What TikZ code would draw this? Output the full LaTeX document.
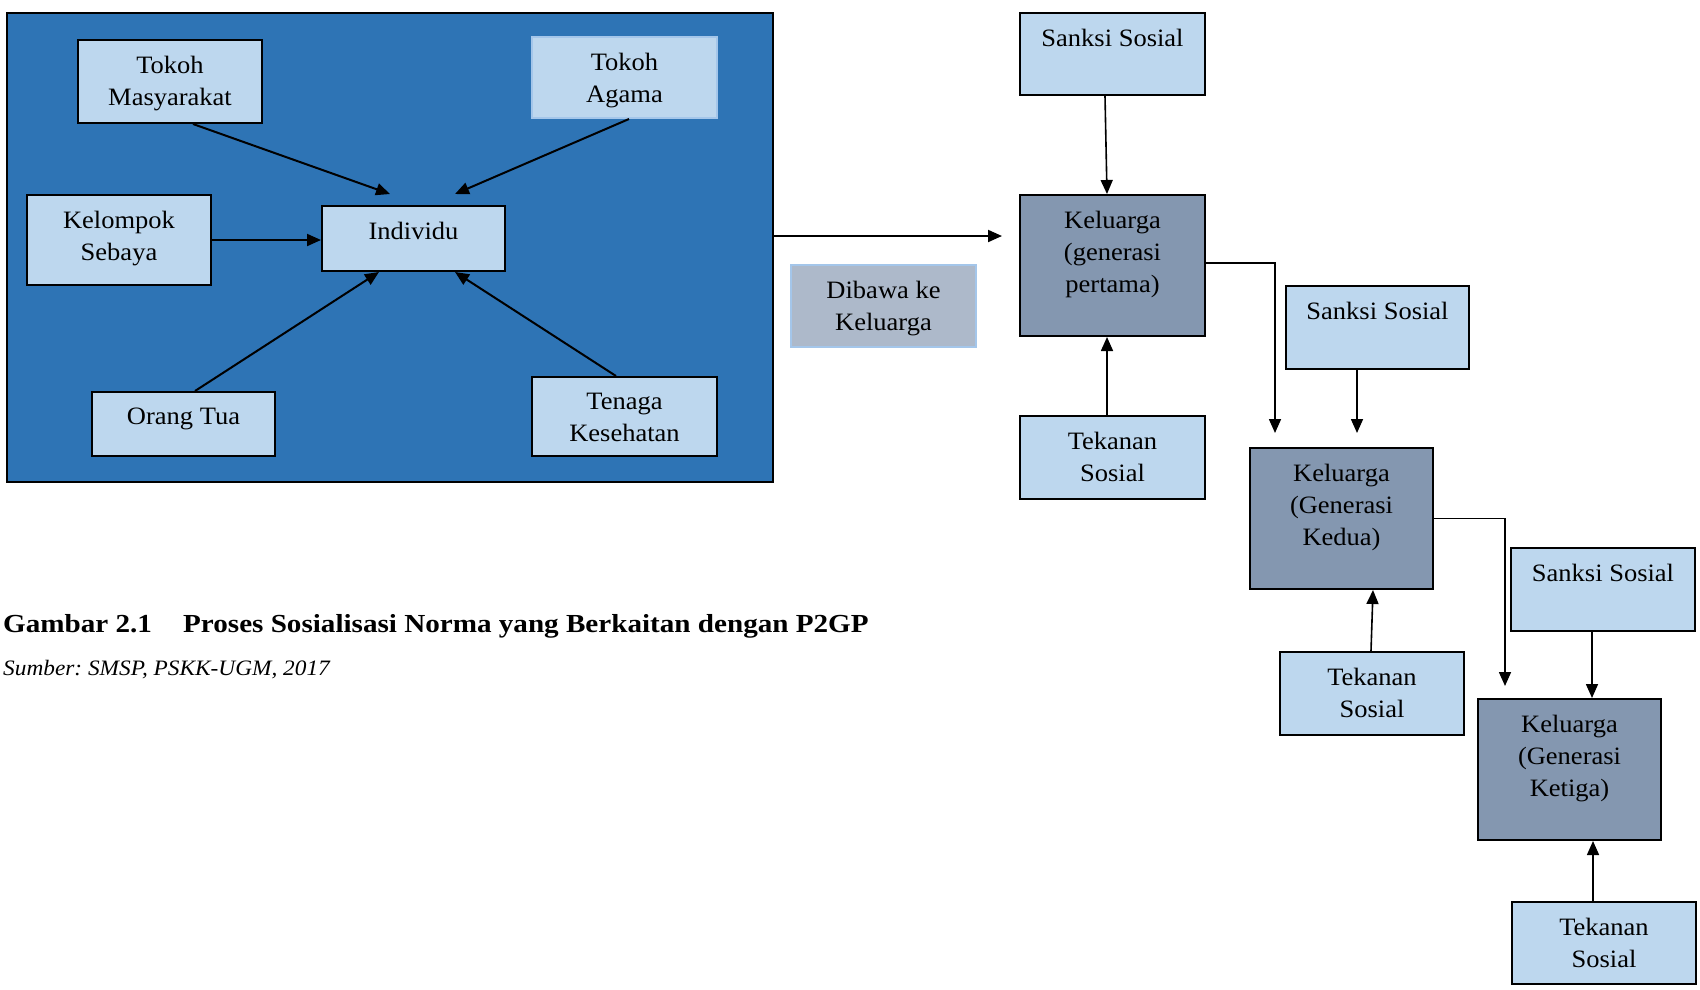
\documentclass[tikz,border=0pt]{standalone}
\usepackage{fontspec}
\setmainfont[FakeStretch=1.06]{Liberation Serif}
\newfontfamily\capfont[FakeStretch=1.12]{Liberation Serif}
\usetikzlibrary{arrows.meta,fit}
\definecolor{outerblue}{HTML}{2E74B5}
\definecolor{lightblue}{HTML}{BDD7EE}
\definecolor{darkbox}{HTML}{8497B0}
\definecolor{dibfill}{HTML}{ADB9CA}
\definecolor{softedge}{HTML}{A4C6EA}
\tikzset{
  bx/.style={draw=black, line width=2pt, inner sep=0pt},
  lb/.style={bx, fill=lightblue},
  dk/.style={bx, fill=darkbox},
  txt/.style={font=\fontsize{25}{32}\selectfont, align=center, inner sep=0pt, anchor=north},
  arr/.style={-{Triangle[length=14pt,width=12pt]}, line width=2pt},
  arrt/.style={-{Triangle[length=14pt,width=12pt]}, line width=1.6pt},
}
\newcommand\mybox[7]{%
  \node[#6, fit={(#2,#3)(#4,#5)}] (#1) {};
  \node[txt] (#1t) at ([yshift=-17pt]#1.north) {#7};}
\frenchspacing
\begin{document}
\begin{tikzpicture}[x=1pt,y=-1pt]
\useasboundingbox[fill=white] (0,0) rectangle (1700,989);
% left panel
\node[draw=black, fill=outerblue, line width=2pt, inner sep=0pt, fit={(6.5,13)(773,482)}] (outer) {};
\mybox{tm}{78}{40}{262}{123}{lb}{Tokoh\\Masyarakat}
\mybox{ta}{532}{37}{717}{118}{lb, draw=softedge}{Tokoh\\Agama}
\mybox{ks}{27}{195}{211}{285}{lb}{Kelompok\\Sebaya}
\mybox{ind}{322}{206}{505}{271}{lb}{Individu}
\mybox{ot}{92}{392}{275}{456}{lb}{Orang Tua}
\mybox{tk}{532}{377}{717}{456}{lb}{Tenaga\\Kesehatan}
\draw[arr] ([xshift=23pt]tm.south) -- ([xshift=-23.5pt,yshift=11pt]ind.north);
\draw[arr] ([xshift=4.5pt]ta.south) -- ([xshift=41.5pt,yshift=11pt]ind.north);
\draw[arr] (ks.east) -- (ks.east -| ind.west);
\draw[arr] ([xshift=11.5pt]ot.north) -- ([xshift=-34.5pt]ind.south);
\draw[arr] ([xshift=-8.5pt]tk.north) -- ([xshift=41.5pt]ind.south);
% middle
\mybox{dib}{791}{265}{976}{347}{bx, draw=softedge, fill=dibfill}{Dibawa ke\\Keluarga}
% right chain
\mybox{s1}{1020}{13}{1205}{95}{lb}{Sanksi Sosial}
\mybox{k1}{1020}{195}{1205}{336}{dk}{Keluarga\\(generasi\\pertama)}
\mybox{t1}{1020}{416}{1205}{499}{lb}{Tekanan\\Sosial}
\mybox{s2}{1286}{286}{1469}{369}{lb}{Sanksi Sosial}
\mybox{k2}{1250}{448}{1433}{589}{dk}{Keluarga\\(Generasi\\Kedua)}
\mybox{t2}{1280}{652}{1464}{735}{lb}{Tekanan\\Sosial}
\mybox{s3}{1511}{548}{1695}{631}{lb}{Sanksi Sosial}
\mybox{k3}{1478}{699}{1661}{840}{dk}{Keluarga\\(Generasi\\Ketiga)}
\mybox{t3}{1512}{902}{1696}{984}{lb}{Tekanan\\Sosial}
\coordinate (a1) at ([yshift=11.5pt]outer.east);
\coordinate (a1end) at ([xshift=-17pt]a1 -| k1.west);
\draw[arr] (a1) -- (a1end);
\draw[arrt] ([xshift=-7.5pt]s1.south) -- ([xshift=-5.5pt]k1.north);
\draw[arrt] ([xshift=-5.5pt]t1.north) -- ([xshift=-5.5pt]k1.south);
\draw[arrt] ([yshift=2.5pt]k1.east) -| ([xshift=-66.5pt,yshift=14pt]k2.north);
\draw[arrt] ([xshift=-20.5pt]s2.south) -- ([xshift=15.5pt,yshift=14pt]k2.north);
\draw[arrt] ([xshift=-1pt]t2.north) -- ([xshift=31.5pt]k2.south);
\draw[arrt] (k2.east) -| ([xshift=-64.5pt,yshift=12pt]k3.north);
\draw[arrt] ([xshift=-11pt]s3.south) -- ([xshift=22.5pt]k3.north);
\draw[arrt] ([xshift=-11pt]t3.north) -- ([xshift=23.5pt]k3.south);
% caption
\node[anchor=base west, inner sep=0pt, font=\capfont\bfseries\fontsize{26}{30}\selectfont] (cap1) at (3,632) {Gambar 2.1};
\node[anchor=base west, inner sep=0pt, font=\capfont\bfseries\fontsize{26}{30}\selectfont] (cap2) at (183,632) {Proses Sosialisasi Norma yang Berkaitan dengan P2GP};
\node[anchor=base west, inner sep=0pt, font=\itshape\fontsize{22}{26}\selectfont] (src) at (3,675) {Sumber: SMSP, PSKK-UGM, 2017};
\end{tikzpicture}
\end{document}
